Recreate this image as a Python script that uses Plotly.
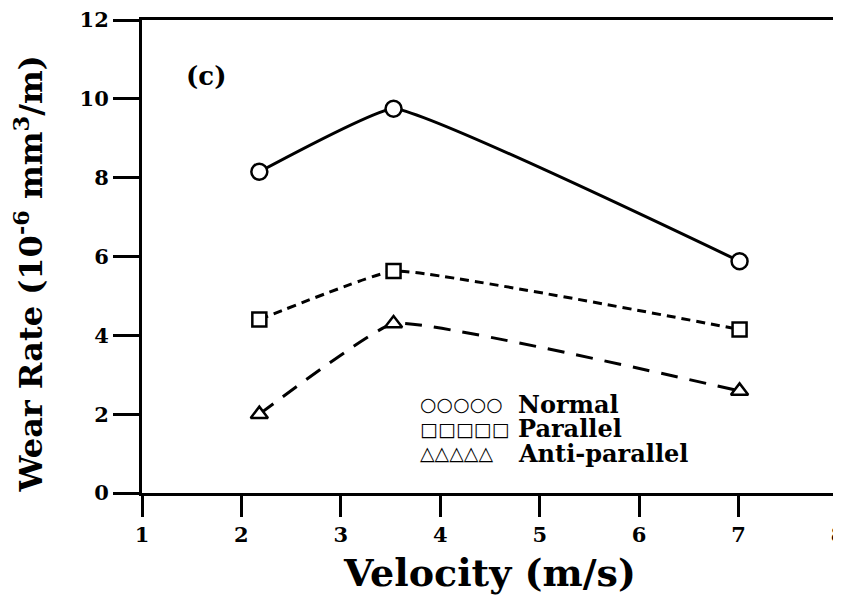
import plotly.graph_objects as go

velocity = [2.18, 3.53, 7.01]
normal = [8.15, 9.75, 5.88]
parallel = [4.4, 5.63, 4.15]
anti_parallel = [2.0, 4.3, 2.59]

series_names = ["Normal", "Parallel", "Anti-parallel"]
legend_symbols = ["○○○○○", "□□□□□", "△△△△△"]
x_ticks = [1, 2, 3, 4, 5, 6, 7, 8]
y_ticks = [0, 2, 4, 6, 8, 10, 12]
x_title = "Velocity (m/s)"
y_title = "Wear Rate (10<sup>-6</sup> mm<sup>3</sup>/m)"

SERIF = "DejaVu Serif"
styles = [
    dict(dash="solid", symbol="circle", size=16),
    dict(dash="9px,6px", symbol="square", size=14),
    dict(dash="17px,12px", symbol="triangle-up", size=15),
]

fig = go.Figure()
for name, ys, st in zip(series_names, [normal, parallel, anti_parallel], styles):
    fig.add_trace(go.Scatter(
        x=velocity, y=ys, name=name, mode="lines+markers",
        line=dict(color="black", width=3, dash=st["dash"], shape="spline", smoothing=0.3),
        marker=dict(symbol=st["symbol"], size=st["size"], color="white",
                    line=dict(color="black", width=2.5)),
        showlegend=False, cliponaxis=False,
    ))

# legend drawn as text rows
leg_y = [0.188, 0.136, 0.084]
for sym, name, yy in zip(legend_symbols, series_names, leg_y):
    fig.add_annotation(x=0.397, y=yy, xref="paper", yref="paper", xanchor="left",
                       yanchor="middle", showarrow=False, text=sym,
                       font=dict(family="DejaVu Sans", size=19, color="black", weight="bold"))
    fig.add_annotation(x=0.537, y=yy, xref="paper", yref="paper", xanchor="left",
                       yanchor="middle", showarrow=False, text=name,
                       font=dict(family=SERIF, size=24, color="black", weight="bold"))

fig.add_annotation(x=0.092, y=0.881, xref="paper", yref="paper", showarrow=False,
                   xanchor="center", yanchor="middle",
                   text="(c)", font=dict(family=SERIF, size=26, color="black", weight="bold"))

# y axis title
fig.add_annotation(x=-0.163, y=0.463, xref="paper", yref="paper", showarrow=False,
                   xanchor="center", yanchor="middle", textangle=-90,
                   text=y_title, font=dict(family=SERIF, size=32, color="black", weight="bold"))

axis_common = dict(
    showline=True, linecolor="black", linewidth=3, mirror=True,
    ticks="outside", tickwidth=2.5, tickcolor="black",
    showgrid=False, zeroline=False, ticklabeloverflow="allow",
    tickfont=dict(family=SERIF, size=21, color="black", weight="bold"),
)

fig.update_layout(
    width=841, height=606,
    margin=dict(l=134, r=11, t=12, b=121),
    paper_bgcolor="white", plot_bgcolor="white",
    xaxis=dict(range=[1, 8], tickvals=x_ticks, ticktext=[str(v) for v in x_ticks],
               ticklen=21,
               title=dict(text=x_title, standoff=14,
                          font=dict(family=SERIF, size=38, color="black", weight="bold")),
               automargin=False, **axis_common),
    yaxis=dict(range=[0, 12], tickvals=y_ticks, ticktext=[str(v) for v in y_ticks],
               ticklen=26, automargin=False, **axis_common),
)

fig.write_html("out.html")
